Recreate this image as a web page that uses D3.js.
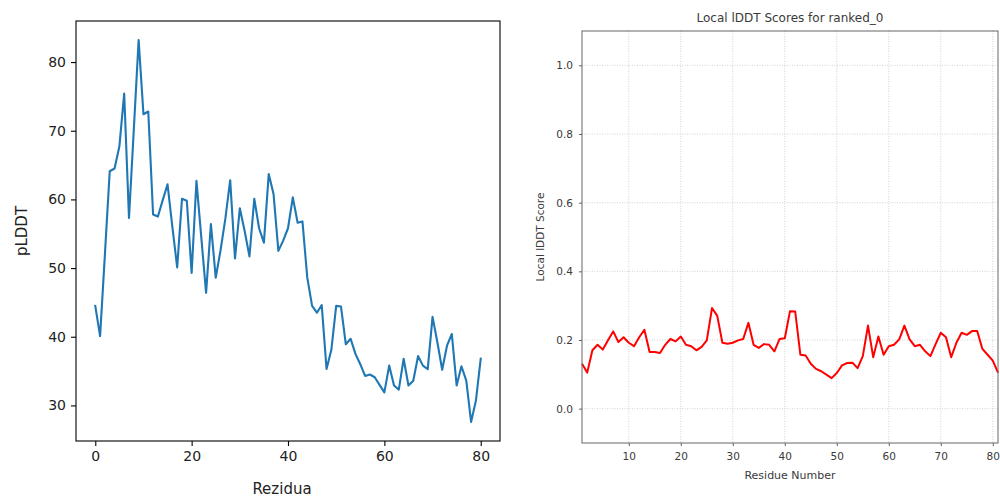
<!DOCTYPE html>
<html>
<head>
<meta charset="utf-8">
<script src="https://cdn.jsdelivr.net/npm/d3@7"></script>
<style>
  html, body { margin: 0; padding: 0; background: #fff; }
  svg { display: block; }
</style>
</head>
<body>
<svg id="chart" width="1000" height="501"></svg>
<script>
// ---------------- Data ----------------
// Left panel: pLDDT per residue (0..80)
const plddtResidues = d3.range(0, 81);
const plddtValues = [
  44.5, 40.1, 52.0, 64.1, 64.5, 67.7, 75.4, 57.3, 70.2, 83.2,
  72.4, 72.8, 57.8, 57.5, 59.9, 62.2, 56.0, 50.1, 60.1, 59.8,
  49.3, 62.7, 54.5, 46.4, 56.4, 48.6, 52.6, 57.2, 62.8, 51.4,
  58.7, 55.4, 51.7, 60.1, 55.8, 53.7, 63.7, 60.8, 52.5, 54.0,
  55.8, 60.3, 56.6, 56.8, 48.6, 44.5, 43.5, 44.6, 35.3, 38.1,
  44.5, 44.4, 38.9, 39.7, 37.5, 36.0, 34.3, 34.5, 34.1, 33.0,
  31.9, 35.8, 32.9, 32.3, 36.8, 32.9, 33.6, 37.2, 35.8, 35.3,
  42.9, 39.2, 35.2, 38.7, 40.4, 32.9, 35.7, 33.6, 27.6, 30.7,
  36.8
];
const plddtXTicks = [0, 20, 40, 60, 80];
const plddtYTicks = [30, 40, 50, 60, 70, 80];

// Right panel: local lDDT per residue (1..81)
const lddtResidues = d3.range(1, 82);
const lddtValues = [
  0.131, 0.105, 0.170, 0.186, 0.172, 0.199, 0.225, 0.194, 0.208, 0.192,
  0.182, 0.208, 0.230, 0.165, 0.165, 0.162, 0.186, 0.203, 0.196, 0.210,
  0.186, 0.182, 0.170, 0.180, 0.199, 0.293, 0.271, 0.192, 0.189, 0.192,
  0.199, 0.203, 0.250, 0.186, 0.177, 0.188, 0.186, 0.167, 0.203, 0.205,
  0.284, 0.283, 0.157, 0.155, 0.131, 0.116, 0.109, 0.099, 0.089, 0.104,
  0.126, 0.133, 0.134, 0.118, 0.153, 0.242, 0.150, 0.210, 0.157, 0.182,
  0.186, 0.202, 0.242, 0.202, 0.182, 0.186, 0.167, 0.153, 0.188, 0.221,
  0.208, 0.150, 0.192, 0.221, 0.215, 0.226, 0.226, 0.174, 0.157, 0.140,
  0.105
];
const lddtXTicks = [10, 20, 30, 40, 50, 60, 70, 80];
const lddtYTicks = [0.0, 0.2, 0.4, 0.6, 0.8, 1.0];

const svg = d3.select("#chart");
const FONT = "DejaVu Sans, sans-serif";

// ---------------- Left panel ----------------
(function () {
  const L = { left: 76, right: 500, top: 21, bottom: 441 };
  const xExt = d3.extent(plddtResidues), xPad = (xExt[1] - xExt[0]) * 0.05;
  const yExt = d3.extent(plddtValues), yPad = (yExt[1] - yExt[0]) * 0.05;
  const x = d3.scaleLinear().domain([xExt[0] - xPad, xExt[1] + xPad]).range([L.left, L.right]);
  const y = d3.scaleLinear().domain([yExt[0] - yPad, yExt[1] + yPad]).range([L.bottom, L.top]);

  const g = svg.append("g");

  g.append("path")
    .datum(plddtResidues.map((r, i) => [r, plddtValues[i]]))
    .attr("fill", "none")
    .attr("stroke", "#1f77b4")
    .attr("stroke-width", 2.1)
    .attr("stroke-linejoin", "round")
    .attr("stroke-linecap", "square")
    .attr("d", d3.line().x(d => x(d[0])).y(d => y(d[1])));

  g.append("rect")
    .attr("x", L.left).attr("y", L.top)
    .attr("width", L.right - L.left).attr("height", L.bottom - L.top)
    .attr("fill", "none").attr("stroke", "#000").attr("stroke-width", 1.1);

  const xAxis = g.append("g").attr("transform", `translate(0,${L.bottom})`)
    .call(d3.axisBottom(x).tickValues(plddtXTicks).tickFormat(d3.format("d")).tickSize(5).tickPadding(5));
  const yAxis = g.append("g").attr("transform", `translate(${L.left},0)`)
    .call(d3.axisLeft(y).tickValues(plddtYTicks).tickFormat(d3.format("d")).tickSize(5).tickPadding(5));
  [xAxis, yAxis].forEach(a => {
    a.select(".domain").remove();
    a.selectAll("line").attr("stroke", "#000").attr("stroke-width", 1.1);
    a.selectAll("text").attr("font-family", FONT).attr("font-size", 14).attr("fill", "#222");
  });

  g.append("text")
    .attr("x", (L.left + L.right) / 2 - 6).attr("y", 494)
    .attr("text-anchor", "middle").attr("font-family", FONT).attr("font-size", 15).attr("fill", "#222")
    .text("Rezidua");
  g.append("text")
    .attr("transform", `translate(27,${(L.top + L.bottom) / 2}) rotate(-90)`)
    .attr("text-anchor", "middle").attr("font-family", FONT).attr("font-size", 15).attr("fill", "#222")
    .text("pLDDT");
})();

// ---------------- Right panel ----------------
(function () {
  const R = { left: 582, right: 998, top: 31, bottom: 443 };
  const x = d3.scaleLinear().domain(d3.extent(lddtResidues)).range([R.left, R.right]);
  const y = d3.scaleLinear().domain([-0.1, 1.1]).range([R.bottom, R.top]);

  const g = svg.append("g");
  const TXT = "#3a3a3a";

  // grid
  g.append("g").selectAll("line").data(lddtXTicks).join("line")
    .attr("x1", d => x(d)).attr("x2", d => x(d))
    .attr("y1", R.top).attr("y2", R.bottom)
    .attr("stroke", "#c8c8c8").attr("stroke-width", 0.8).attr("stroke-dasharray", "1,1.5");
  g.append("g").selectAll("line").data(lddtYTicks).join("line")
    .attr("x1", R.left).attr("x2", R.right)
    .attr("y1", d => y(d)).attr("y2", d => y(d))
    .attr("stroke", "#c8c8c8").attr("stroke-width", 0.8).attr("stroke-dasharray", "1,1.5");

  g.append("path")
    .datum(lddtResidues.map((r, i) => [r, lddtValues[i]]))
    .attr("fill", "none")
    .attr("stroke", "#ff0000")
    .attr("stroke-width", 2)
    .attr("stroke-linejoin", "round")
    .attr("d", d3.line().x(d => x(d[0])).y(d => y(d[1])));

  g.append("rect")
    .attr("x", R.left).attr("y", R.top)
    .attr("width", R.right - R.left).attr("height", R.bottom - R.top)
    .attr("fill", "none").attr("stroke", "#666").attr("stroke-width", 1);

  const xAxis = g.append("g").attr("transform", `translate(0,${R.bottom})`)
    .call(d3.axisBottom(x).tickValues(lddtXTicks).tickFormat(d3.format("d")).tickSize(3).tickPadding(7));
  const yAxis = g.append("g").attr("transform", `translate(${R.left},0)`)
    .call(d3.axisLeft(y).tickValues(lddtYTicks).tickFormat(d3.format(".1f")).tickSize(3).tickPadding(6));
  [xAxis, yAxis].forEach(a => {
    a.select(".domain").remove();
    a.selectAll("line").attr("stroke", "#666").attr("stroke-width", 1);
    a.selectAll("text").attr("font-family", FONT).attr("font-size", 10.5).attr("fill", TXT);
  });

  g.append("text")
    .attr("x", (R.left + R.right) / 2).attr("y", 479)
    .attr("text-anchor", "middle").attr("font-family", FONT).attr("font-size", 11).attr("fill", TXT)
    .text("Residue Number");
  g.append("text")
    .attr("transform", `translate(544,${(R.top + R.bottom) / 2}) rotate(-90)`)
    .attr("text-anchor", "middle").attr("font-family", FONT).attr("font-size", 10.5).attr("fill", TXT)
    .text("Local lDDT Score");
  g.append("text")
    .attr("x", (R.left + R.right) / 2).attr("y", 22)
    .attr("text-anchor", "middle").attr("font-family", FONT).attr("font-size", 12).attr("fill", TXT)
    .text("Local lDDT Scores for ranked_0");
})();
</script>
</body>
</html>
